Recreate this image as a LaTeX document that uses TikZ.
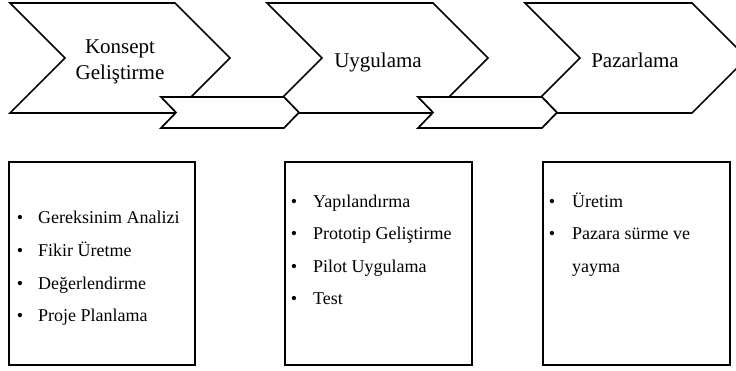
\documentclass[tikz,border=0pt]{standalone}
\usepackage{fontspec}
\setmainfont{Liberation Serif}
\begin{document}
\begin{tikzpicture}[x=1pt,y=-1pt,
  chev/.style={draw,line width=1.7pt,fill=white,line join=miter},
  box/.style={draw,line width=2.6pt},
  head/.style={font=\fontsize{21}{25}\selectfont,anchor=base,inner sep=0pt},
  item/.style={font=\fontsize{18}{22}\selectfont,anchor=base west,inner sep=0pt},
  bul/.style={font=\fontsize{18}{22}\selectfont,anchor=base,inner sep=0pt}]
\useasboundingbox (0,0) rectangle (736,370);
\clip (0,0) rectangle (736,370);
% big chevrons
\draw[chev] (10,3) -- (175,3) -- (230,58) -- (175,113) -- (10,113) -- (65,58) -- cycle;
\draw[chev] (267,3) -- (433,3) -- (488,58) -- (433,113) -- (267,113) -- (322,58) -- cycle;
\draw[chev] (525,3) -- (692,3) -- (747,58) -- (692,113) -- (525,113) -- (580,58) -- cycle;
% small chevrons
\draw[chev] (161,97) -- (284,97) -- (299,112.5) -- (284,128) -- (161,128) -- (176,112.5) -- cycle;
\draw[chev] (418,97) -- (542,97) -- (557,112.5) -- (542,128) -- (418,128) -- (433,112.5) -- cycle;
% headings
\node[head] (k1) at (120,53) {Konsept};
\node[head] (k2) at (120,79) {Geliştirme};
\node[head] (u) at (378,67) {Uygulama};
\node[head] (p) at (635,67) {Pazarlama};
% boxes
\draw[box] (9,162) rectangle (195,365);
\draw[box] (285,162) rectangle (472,365);
\draw[box] (543,162) rectangle (730,365);
% box 1
\node[bul] (b11) at (20,223) {•}; \node[item] (t11) at (38,223) {Gereksinim Analizi};
\node[bul] (b12) at (20,256) {•}; \node[item] (t12) at (38,256) {Fikir Üretme};
\node[bul] (b13) at (20,289) {•}; \node[item] (t13) at (38,289) {Değerlendirme};
\node[bul] (b14) at (20,321) {•}; \node[item] (t14) at (38,321) {Proje Planlama};
% box 2
\node[bul] (b21) at (294,207) {•}; \node[item] (t21) at (313,207) {Yapılandırma};
\node[bul] (b22) at (294,239) {•}; \node[item] (t22) at (313,239) {Prototip Geliştirme};
\node[bul] (b23) at (294,272) {•}; \node[item] (t23) at (313,272) {Pilot Uygulama};
\node[bul] (b24) at (294,304) {•}; \node[item] (t24) at (313,304) {Test};
% box 3
\node[bul] (b31) at (552,207) {•}; \node[item] (t31) at (572,207) {Üretim};
\node[bul] (b32) at (552,239) {•}; \node[item] (t32) at (572,239) {Pazara sürme ve};
\node[item] (t33) at (572,272) {yayma};
\end{tikzpicture}
\end{document}
